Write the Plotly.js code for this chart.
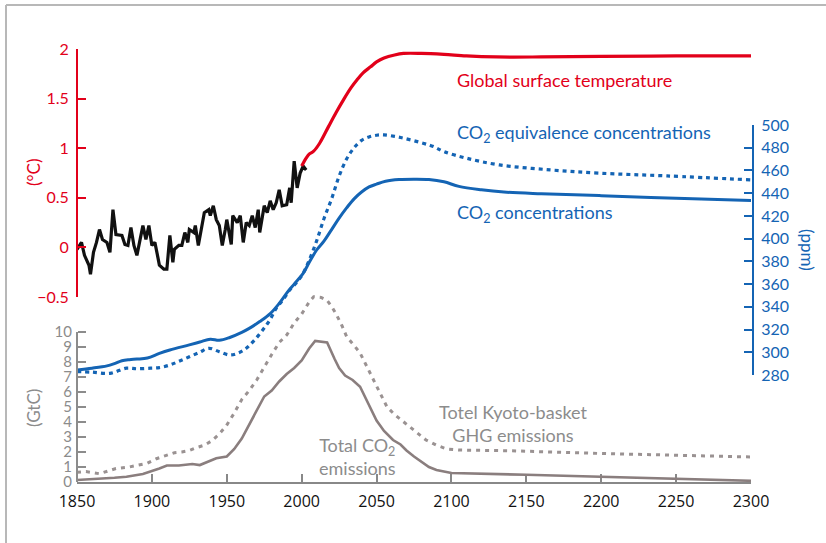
<!DOCTYPE html>
<html>
<head>
<meta charset="utf-8">
<script src="https://cdn.plot.ly/plotly-3.0.1.min.js"></script>
<style>html,body{margin:0;padding:0;background:#fff;}#chart{width:826px;height:543px;}</style>
</head>
<body>
<div id="chart"></div>
<script>
// ---- Data ----
const histYears = [1850,1853,1855,1858,1859,1861,1863,1865,1867,1870,1872,1874,1876,1880,1882,1884,1886,1888,1890,1892,1894,1896,1898,1900,1902,1904,1905,1908,1910,1912,1914,1915,1918,1920,1922,1924,1925,1928,1929,1931,1933,1935,1938,1939,1941,1943,1945,1947,1949,1950,1953,1954,1957,1959,1961,1963,1965,1967,1969,1971,1972,1974,1975,1977,1979,1981,1983,1985,1987,1990,1992,1993,1995,1997,1999,2001,2003];
const histTemp = [-0.02,0.05,-0.08,-0.18,-0.27,-0.05,0.05,0.18,0.08,0.05,-0.05,0.38,0.13,0.12,0.03,0.02,0.2,0.02,-0.08,0.08,0.22,0.08,0.22,0.02,0.05,-0.1,-0.18,-0.22,-0.22,0.12,-0.15,-0.02,0.02,0.02,0.15,0.05,0.18,0.15,0.22,0.02,0.18,0.35,0.38,0.32,0.42,0.28,0.22,0.02,0.18,0.28,0.03,0.32,0.25,0.32,0.05,0.25,0.22,0.32,0.2,0.38,0.15,0.35,0.42,0.35,0.47,0.38,0.45,0.58,0.42,0.43,0.6,0.45,0.87,0.6,0.75,0.82,0.78];

const projYears = [2000,2003,2005,2008,2012,2018,2023,2028,2033,2037,2041,2046,2050,2055,2062,2068,2080,2095,2110,2130,2160,2200,2250,2300];
const projTemp  = [0.82,0.9,0.94,0.97,1.05,1.22,1.36,1.49,1.61,1.69,1.76,1.82,1.87,1.91,1.94,1.955,1.955,1.945,1.93,1.92,1.92,1.925,1.93,1.93];

const co2Years = [1850,1860,1870,1875,1880,1885,1890,1897,1905,1912,1925,1932,1939,1945,1952,1960,1965,1972,1979,1985,1990,1995,2001,2005,2010,2015,2020,2025,2030,2035,2040,2045,2050,2056,2065,2075,2085,2095,2105,2120,2135,2160,2200,2250,2300];
const co2Conc  = [284.5,286,288,290,292.5,293.5,294,295,299,302,306.5,309,311.5,310.5,313,317.5,321,327,334,343,352,360,369.5,379,390,398,408,418,427,435,441,445.5,448,450.5,452,452.3,452,450,446,443,441,439.5,437.8,435.5,433.5];

const eqYears = [1850,1860,1872,1883,1890,1899,1905,1912,1918,1925,1932,1938,1945,1952,1958,1963,1968,1974,1979,1983,1988,1992,1997,2001,2005,2010,2015,2020,2025,2030,2035,2040,2045,2050,2055,2062,2068,2081,2088,2095,2110,2132,2166,2199,2244,2300];
const co2Eq  = [283,282.5,281.5,286,285.5,286,286.5,288.8,292,296,300,303.5,300.5,297.6,299.5,303.5,310,319.6,329,338.7,347,354.8,362,369.5,381,398,418,435,455,470,480,486.5,489.5,491,491.3,490,488.4,484,481,476.6,470.8,464.9,460.5,457.6,455.2,451.7];

const emYears = [1850,1865,1875,1883,1894,1905,1910,1918,1927,1932,1937,1943,1950,1955,1960,1965,1970,1975,1980,1985,1990,1995,2000,2005,2009,2017,2022,2025,2029,2034,2039,2044,2050,2055,2061,2066,2070,2075,2081,2085,2090,2100,2150,2200,2250,2300];
const co2Emis = [0.13,0.2,0.28,0.35,0.53,0.9,1.1,1.1,1.2,1.13,1.35,1.58,1.7,2.2,2.9,3.8,4.8,5.7,6.1,6.7,7.2,7.6,8.1,8.9,9.4,9.3,8.2,7.6,7.1,6.8,6.35,5.3,4.1,3.4,2.8,2.5,2.1,1.7,1.25,1.0,0.8,0.6,0.48,0.36,0.22,0.08];

const ghgYears = [1850,1856,1865,1870,1876,1885,1892,1897,1903,1910,1915,1920,1925,1930,1935,1940,1945,1950,1955,1960,1965,1970,1975,1980,1985,1990,1995,2000,2005,2008,2013,2017,2020,2023,2027,2030,2035,2039,2043,2048,2052,2057,2062,2067,2072,2078,2083,2090,2097,2105,2140,2200,2250,2300];
const ghgEmis  = [0.65,0.7,0.55,0.7,0.9,1.0,1.12,1.25,1.55,1.8,1.95,2.0,2.1,2.3,2.45,2.75,3.2,3.8,4.6,5.5,6.1,6.8,7.7,8.5,9.3,9.8,10.6,11.2,12.0,12.35,12.3,12.1,11.7,11.2,10.4,9.7,9.1,8.6,7.8,6.8,5.9,5.0,4.5,4.1,3.7,3.2,2.8,2.45,2.2,2.13,2.08,1.9,1.8,1.67];

const xTicks = [1850,1900,1950,2000,2050,2100,2150,2200,2250,2300];
const tempTicks = [-0.5,0,0.5,1,1.5,2];
const tempTickText = ['\u22120.5','0','0.5','1','1.5','2'];
const ppmTicks = [280,300,320,340,360,380,400,420,440,460,480,500];
const gtcTicks = [0,1,2,3,4,5,6,7,8,9,10];

// ---- Layout helpers (pixel -> paper) ----
const W = 826, H = 543, ML = 77, MR = 73, MT = 48, MB = 60;
const PW = W - ML - MR, PH = H - MT - MB;
const px = v => (v - ML) / PW;
const py = v => (H - MB - v) / PH;

const RED = '#e2001a', BLUE = '#1464b4', GRAY = '#8c8c8c', EMIS = '#8a7e7e', GHG = '#9a9292';
const FONT = 'Lato, "Open Sans", sans-serif';

const traces = [
  {x: histYears, y: histTemp, yaxis: 'y', mode: 'lines', line: {color: '#111', width: 3.2}},
  {x: projYears, y: projTemp, yaxis: 'y', mode: 'lines', line: {color: RED, width: 3.2, shape: 'spline'}},
  {x: eqYears, y: co2Eq, yaxis: 'y2', mode: 'lines', line: {color: BLUE, width: 3.2, dash: '4px,4px', shape: 'spline'}},
  {x: co2Years, y: co2Conc, yaxis: 'y2', mode: 'lines', line: {color: BLUE, width: 3, shape: 'spline'}},
  {x: ghgYears, y: ghgEmis, yaxis: 'y3', mode: 'lines', line: {color: GHG, width: 3, dash: '4px,5px'}},
  {x: emYears, y: co2Emis, yaxis: 'y3', mode: 'lines', line: {color: EMIS, width: 2.6}}
];

const gtcTop = (H - MB - 1 - MT) / 15; // 15 px per GtC
const layout = {
  width: W, height: H,
  margin: {l: ML, r: MR, t: MT, b: MB, pad: 0},
  showlegend: false,
  paper_bgcolor: '#fff', plot_bgcolor: 'rgba(0,0,0,0)',
  font: {family: FONT},
  xaxis: {
    domain: [0, px(751)], range: [1850, 2300], anchor: 'free', position: 0,
    showgrid: false, zeroline: false, showline: true, linecolor: '#888', linewidth: 2,
    ticks: 'inside', ticklen: 8, tickwidth: 2, tickcolor: '#888',
    tickvals: xTicks, tickfont: {color: '#111', size: 16, family: '"Open Sans", sans-serif'},
    ticklabelstandoff: 4
  },
  yaxis: {
    domain: [py(297), py(49)], range: [-0.5, 2], anchor: 'free', position: 0, side: 'left',
    showgrid: false, zeroline: false, showline: true, linecolor: RED, linewidth: 2,
    ticks: 'inside', ticklen: 8, tickwidth: 2, tickcolor: RED,
    tickvals: tempTicks, ticktext: tempTickText, tickfont: {color: RED, size: 16},
    ticklabelstandoff: 4
  },
  yaxis2: {
    domain: [py(375), py(125)], range: [280, 500], anchor: 'free', position: 1, side: 'right',
    showgrid: false, zeroline: false, showline: true, linecolor: BLUE, linewidth: 2,
    ticks: 'inside', ticklen: 8, tickwidth: 2, tickcolor: BLUE,
    tickvals: ppmTicks, tickfont: {color: BLUE, size: 16},
    ticklabelstandoff: 4
  },
  yaxis3: {
    domain: [py(482), 1], range: [0, gtcTop], anchor: 'free', position: 0, side: 'left',
    showgrid: false, zeroline: false, showline: false,
    ticks: 'inside', ticklen: 8, tickwidth: 2, tickcolor: GRAY,
    tickvals: gtcTicks, tickfont: {color: GRAY, size: 15},
    ticklabelstandoff: 5
  },
  shapes: [
    {type: 'line', xref: 'paper', yref: 'y3', x0: 0, x1: 0, y0: 0, y1: 10, line: {color: GRAY, width: 2}},
    {type: 'line', xref: 'paper', yref: 'paper', x0: px(6), x1: px(6), y0: py(5), y1: py(543), line: {color: '#b8b8b8', width: 2}},
    {type: 'line', xref: 'paper', yref: 'paper', x0: px(6), x1: px(826), y0: py(5), y1: py(5), line: {color: '#b8b8b8', width: 2}}
  ],
  annotations: [
    {text: 'Global surface temperature', xref: 'paper', yref: 'paper', x: px(455), y: py(80), xanchor: 'left', yanchor: 'middle', showarrow: false, font: {color: RED, size: 18}},
    {text: 'CO<sub>2</sub> equivalence concentrations', xref: 'paper', yref: 'paper', x: px(455), y: py(133), xanchor: 'left', yanchor: 'middle', showarrow: false, font: {color: BLUE, size: 18}},
    {text: 'CO<sub>2</sub> concentrations', xref: 'paper', yref: 'paper', x: px(455), y: py(213), xanchor: 'left', yanchor: 'middle', showarrow: false, font: {color: BLUE, size: 18}},
    {text: 'Totel Kyoto-basket<br>GHG emissions', xref: 'paper', yref: 'paper', x: px(513), y: py(423), xanchor: 'center', yanchor: 'middle', align: 'center', showarrow: false, font: {color: GRAY, size: 18}},
    {text: 'Total CO<sub>2</sub><br>emissions', xref: 'paper', yref: 'paper', x: px(357), y: py(456), xanchor: 'center', yanchor: 'middle', align: 'center', showarrow: false, font: {color: GRAY, size: 18}},
    {text: '(°C)', xref: 'paper', yref: 'paper', x: px(33), y: py(173), xanchor: 'center', yanchor: 'middle', textangle: -90, showarrow: false, font: {color: RED, size: 17}},
    {text: '(GtC)', xref: 'paper', yref: 'paper', x: px(33), y: py(408), xanchor: 'center', yanchor: 'middle', textangle: -90, showarrow: false, font: {color: GRAY, size: 17}},
    {text: '(ppm)', xref: 'paper', yref: 'paper', x: px(807), y: py(250), xanchor: 'center', yanchor: 'middle', textangle: 90, showarrow: false, font: {color: BLUE, size: 17}}
  ]
};

Plotly.newPlot('chart', traces, layout, {displayModeBar: false, staticPlot: true});
</script>
</body>
</html>
